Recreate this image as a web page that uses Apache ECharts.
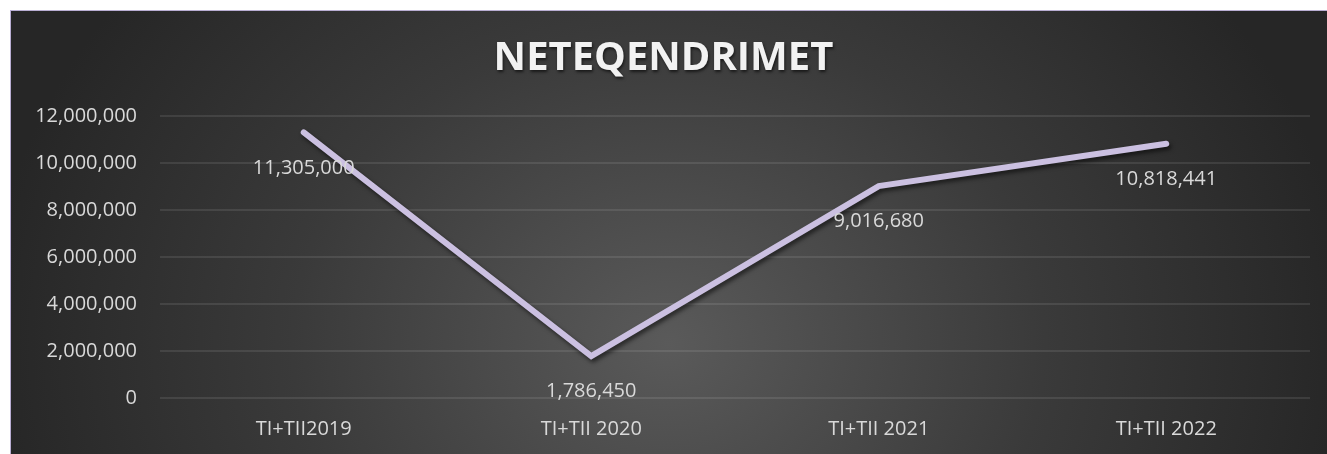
<!DOCTYPE html>
<html>
<head>
<meta charset="utf-8">
<script src="https://cdn.jsdelivr.net/npm/echarts@6/dist/echarts.min.js"></script>
<style>
html,body{margin:0;padding:0;background:#fff;width:1327px;height:454px;overflow:hidden;}
#bg{position:absolute;left:10px;top:10px;width:1316px;height:444px;border-left:1px solid #b9aed3;border-top:1px solid #b9aed3;border-right:1px solid #b9aed3;
background:radial-gradient(ellipse 52% 130% at 50% 75%, #5a5a5a 0%, #3a3a3a 55%, #262626 100%);}
#chart{position:absolute;left:0;top:0;width:1327px;height:454px;}
</style>
</head>
<body>
<div id="bg"></div>
<div id="chart"></div>
<script>
const titleText = "NETEQENDRIMET";
const categories = ["TI+TII2019", "TI+TII 2020", "TI+TII 2021", "TI+TII 2022"];
const values = [11305000, 1786450, 9016680, 10818441];
const yTicks = { min: 0, max: 12000000, interval: 2000000 };

const fmt = v => Number(v).toLocaleString('en-US');
const chart = echarts.init(document.getElementById('chart'), null, { renderer: 'canvas' });
chart.setOption({
  backgroundColor: 'transparent',
  animation: false,
  title: {
    text: titleText,
    left: 'center',
    top: 34,
    textStyle: {
      fontFamily: 'Open Sans', fontWeight: 'bold', fontSize: 40, color: '#f2f2f2',
      textShadowColor: 'rgba(0,0,0,0.6)', textShadowBlur: 3, textShadowOffsetX: 1, textShadowOffsetY: 2
    }
  },
  grid: { left: 160, right: 17, top: 116, bottom: 56, containLabel: false },
  xAxis: {
    type: 'category',
    data: categories,
    boundaryGap: true,
    axisLine: { show: false },
    axisTick: { show: false },
    axisLabel: { color: '#d9d9d9', fontFamily: 'Open Sans', fontSize: 20, margin: 21 }
  },
  yAxis: {
    type: 'value',
    min: yTicks.min, max: yTicks.max, interval: yTicks.interval,
    axisLine: { show: false },
    axisTick: { show: false },
    axisLabel: { color: '#d9d9d9', fontFamily: 'Open Sans', fontSize: 20, margin: 23, formatter: fmt },
    splitLine: { lineStyle: { color: 'rgba(255,255,255,0.13)', width: 1.5 } }
  },
  series: [{
    type: 'line',
    data: values,
    symbol: 'circle',
    symbolSize: 1,
    showSymbol: true,
    itemStyle: { color: '#cbc0e1' },
    lineStyle: {
      color: '#cbc0e1', width: 6, cap: 'round', join: 'miter',
      shadowColor: 'rgba(0,0,0,0.55)', shadowBlur: 4, shadowOffsetX: 2, shadowOffsetY: 3
    },
    label: {
      show: true, position: 'bottom', distance: 25,
      color: '#d9d9d9', fontFamily: 'Open Sans', fontSize: 20,
      formatter: p => fmt(p.value)
    },
    emphasis: { disabled: true }
  }]
});
</script>
</body>
</html>
